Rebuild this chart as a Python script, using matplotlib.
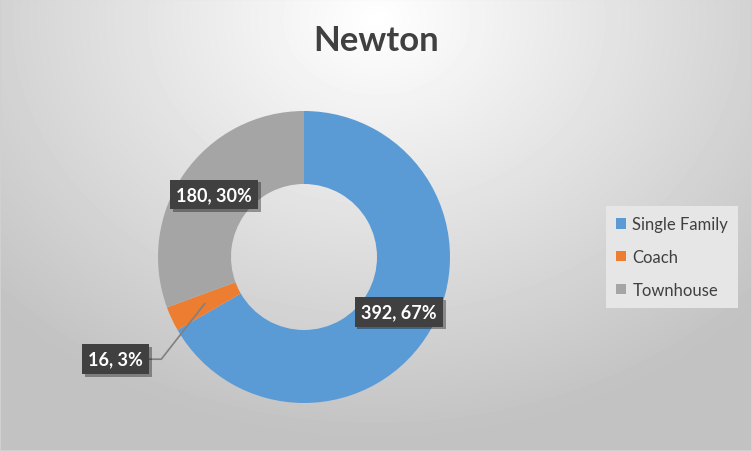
import numpy as np
import matplotlib
matplotlib.use("Agg")
import matplotlib.pyplot as plt
import matplotlib.patheffects as pe

# data
labels = ["Single Family", "Coach", "Townhouse"]
counts = [392, 16, 180]
pcts = [67, 3, 30]  # as printed on the chart
colors = ["#5B9BD5", "#ED7D31", "#A5A5A5"]
title = "Newton"

plt.rcParams['font.family'] = ['Lato', 'DejaVu Sans']

fig = plt.figure(figsize=(7.52, 4.52), dpi=100)

# background: soft radial gradient, white at top centre
bg = fig.add_axes([0, 0, 1, 1])
yy, xx = np.mgrid[0:452, 0:752]
d = np.sqrt(((xx - 376) / 520.0) ** 2 + ((yy - 20) / 420.0) ** 2)
shade = np.clip(1.0 - 0.24 * d, 0.76, 1.0)
bg.imshow(shade, cmap="gray", vmin=0, vmax=1, aspect="auto", extent=[0, 1, 0, 1])
bg.axis("off")
bg.add_patch(plt.Rectangle((0, 0), 1, 1, transform=bg.transAxes, fill=False,
                           edgecolor="#d0d0d0", lw=1.5))

# donut
ax = fig.add_axes([158 / 752, 48 / 452, 292 / 752, 292 / 452])
wedges, _ = ax.pie(counts, colors=colors, startangle=90, counterclock=False,
                   radius=1.0, wedgeprops=dict(width=0.5, edgecolor="none"))
ax.set_xlim(-1, 1)
ax.set_ylim(-1, 1)
ax.set_aspect("equal")
ax.axis("off")

total = sum(counts)
box = dict(boxstyle="square,pad=0.35", fc="#404040", ec="none")
shadow = [pe.SimplePatchShadow(offset=(2, -2), shadow_rgbFace="#000000", alpha=0.35), pe.Normal()]
for w, n, p in zip(wedges, counts, pcts):
    mid = np.deg2rad((w.theta1 + w.theta2) / 2)
    px, py = 0.75 * np.cos(mid), 0.75 * np.sin(mid)
    txt = "%d, %d%%" % (n, p)
    if n / total < 0.05:
        t = ax.annotate(txt, xy=(px, py), xytext=(-1.29, -0.70),
                        ha="center", va="center", fontsize=13, fontweight="bold",
                        color="white", bbox=box, annotation_clip=False,
                        arrowprops=dict(arrowstyle="-", color="#808080", lw=1.2,
                                        shrinkA=0, shrinkB=0,
                                        connectionstyle="angle,angleA=0,angleB=52,rad=0"))
    else:
        t = ax.text(px, py, txt, ha="center", va="center", fontsize=13,
                    fontweight="bold", color="white", bbox=box)
    t.get_bbox_patch().set_path_effects(shadow)

fig.text(0.5, 1 - 41 / 452, title, ha="center", va="center", fontsize=25,
         fontweight="bold", color="#404040")

leg = fig.legend(wedges, labels, loc="center", bbox_to_anchor=(672 / 752, 1 - 258 / 452),
                 frameon=True, fontsize=12, handlelength=0.6, handleheight=0.6,
                 handletextpad=0.4, labelspacing=1.0, borderpad=0.6, labelcolor="#404040")
leg.get_frame().set_facecolor("#e6e6e6")
leg.get_frame().set_edgecolor("none")
leg.get_frame().set_alpha(1)
leg.get_frame().set_boxstyle("square,pad=0")

fig.savefig("out.png", dpi=100)
